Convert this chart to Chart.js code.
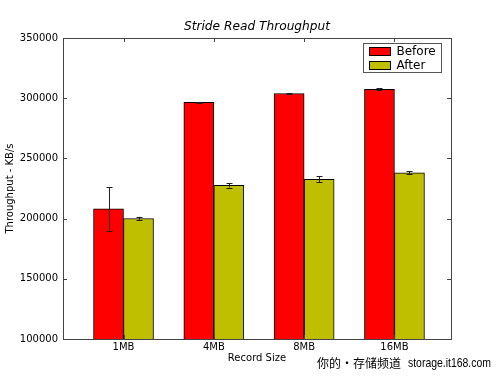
<!DOCTYPE html>
<html>
<head>
<meta charset="utf-8">
<script src="https://cdn.jsdelivr.net/npm/chart.js@4"></script>
<style>
body{margin:0;background:#fff;}
</style>
</head>
<body>
<canvas id="chart" width="500" height="377"></canvas>
<script>

let sizes = ["1MB","4MB","8MB","16MB"];
let before = [208100, 296600, 303900, 307300];
let beforeErr = [18000, 300, 300, 800];
let after = [200100, 227600, 232600, 238000];
let afterErr = [1400, 1800, 2400, 1200];
let yTicks = [100000, 150000, 200000, 250000, 300000, 350000];
let title = "Stride Read Throughput";

let font = "'DejaVu Sans', sans-serif";

function points(vals){
return vals.map((v,i) => ({x:i, y:v}));
}

let errorBars = {
id:"errorBars",
afterDatasetsDraw(chart){
let ctx = chart.ctx;
let y = chart.scales.y;
let errs = [beforeErr, afterErr];
ctx.save();
ctx.strokeStyle = "#222";
ctx.lineWidth = 1;
chart.data.datasets.forEach((ds,d) => {
chart.getDatasetMeta(d).data.forEach((bar,i) => {
let v = ds.data[i].y;
let top = y.getPixelForValue(v + errs[d][i]);
let bot = y.getPixelForValue(v - errs[d][i]);
let x = Math.round(bar.x) + 0.5;
ctx.beginPath();
ctx.moveTo(x, top); ctx.lineTo(x, bot);
ctx.moveTo(x-3, Math.round(top)+0.5); ctx.lineTo(x+3, Math.round(top)+0.5);
ctx.moveTo(x-3, Math.round(bot)+0.5); ctx.lineTo(x+3, Math.round(bot)+0.5);
ctx.stroke();
});
});
ctx.restore();
}
};

let frame = {
id:"frame",
afterDraw(chart){
let ctx = chart.ctx;
let a = chart.chartArea;
let xs = chart.scales.x;
let ys = chart.scales.y;
ctx.save();
ctx.strokeStyle = "#444";
ctx.lineWidth = 1;
ctx.strokeRect(Math.round(a.left)+0.5, Math.round(a.top)+0.5, Math.round(a.right-a.left), Math.round(a.bottom-a.top));
ctx.beginPath();
yTicks.forEach(t => {
let p = Math.round(ys.getPixelForValue(t)) + 0.5;
ctx.moveTo(a.left, p); ctx.lineTo(a.left+4, p);
ctx.moveTo(a.right, p); ctx.lineTo(a.right-4, p);
});
sizes.forEach((s,i) => {
let p = Math.round(xs.getPixelForValue(i)) + 0.5;
ctx.moveTo(p, a.bottom); ctx.lineTo(p, a.bottom-4);
ctx.moveTo(p, a.top); ctx.lineTo(p, a.top+4);
});
ctx.stroke();

// title, centred over the plot area
ctx.fillStyle = "#000";
ctx.font = "italic 12.2px " + font;
ctx.textAlign = "center";
ctx.textBaseline = "middle";
ctx.fillText(title, (a.left + a.right) / 2, 27);
ctx.textAlign = "left";

// legend box
let bx = Math.round(a.right) - 87.5, by = Math.round(a.top) + 5.5;
ctx.fillStyle = "#fff";
ctx.fillRect(bx, by, 78, 29);
ctx.strokeStyle = "#555";
ctx.strokeRect(bx, by, 78, 29);
ctx.font = "12px " + font;
chart.data.datasets.forEach((ds,d) => {
let ry = by + 4 + d*14;
ctx.fillStyle = ds.backgroundColor;
ctx.fillRect(bx+6, ry, 21, 8);
ctx.strokeStyle = "#000";
ctx.strokeRect(bx+6, ry, 21, 8);
ctx.fillStyle = "#000";
ctx.fillText(ds.label, bx+33, ry+4);
});

// watermark
ctx.font = "12px 'Noto Sans CJK SC'";
ctx.fillText("你的・存储频道", 317, 363, 84);
ctx.font = "13px 'Liberation Sans', sans-serif";
ctx.fillText("storage.it168.com", 408, 363, 83);
ctx.restore();
}
};

new Chart(document.getElementById("chart"), {
type:"bar",
data:{
datasets:[
{label:"Before", data:points(before), backgroundColor:"#ff0000", borderColor:"#000", borderWidth:1, barThickness:30},
{label:"After", data:points(after), backgroundColor:"#bfbf00", borderColor:"#000", borderWidth:1, barThickness:30}
]
},
options:{
responsive:false,
animation:false,
devicePixelRatio:1,
layout:{padding:{left:0, right:49, top:38, bottom:0}},
plugins:{
legend:{display:false},
tooltip:{enabled:false},
title:{display:false}
},
scales:{
x:{
type:"linear",
offset:false,
min:-0.67,
max:3.626,
grid:{display:false, drawTicks:false},
border:{display:false},
afterBuildTicks: axis => { axis.ticks = sizes.map((s,i) => ({value:i})); },
afterFit: axis => { axis.height = 38; },
ticks:{
autoSkip:false,
maxRotation:0,
padding:2,
color:"#000",
font:{family:font, size:10},
callback: v => sizes[v]
},
title:{display:true, text:"Record Size", color:"#000", font:{family:font, size:10}, padding:{top:0, bottom:13}}
},
y:{
min:100000,
max:350000,
grid:{display:false, drawTicks:false},
border:{display:false},
afterBuildTicks: axis => { axis.ticks = yTicks.map(v => ({value:v})); },
afterFit: axis => { axis.width = 63; },
ticks:{
padding:5,
color:"#000",
font:{family:font, size:10},
callback: v => String(v)
},
title:{display:true, text:"Throughput - KB/s", color:"#000", font:{family:font, size:10}, padding:{top:4, bottom:0}}
}
}
},
plugins:[errorBars, frame]
});

</script>
</body>
</html>
